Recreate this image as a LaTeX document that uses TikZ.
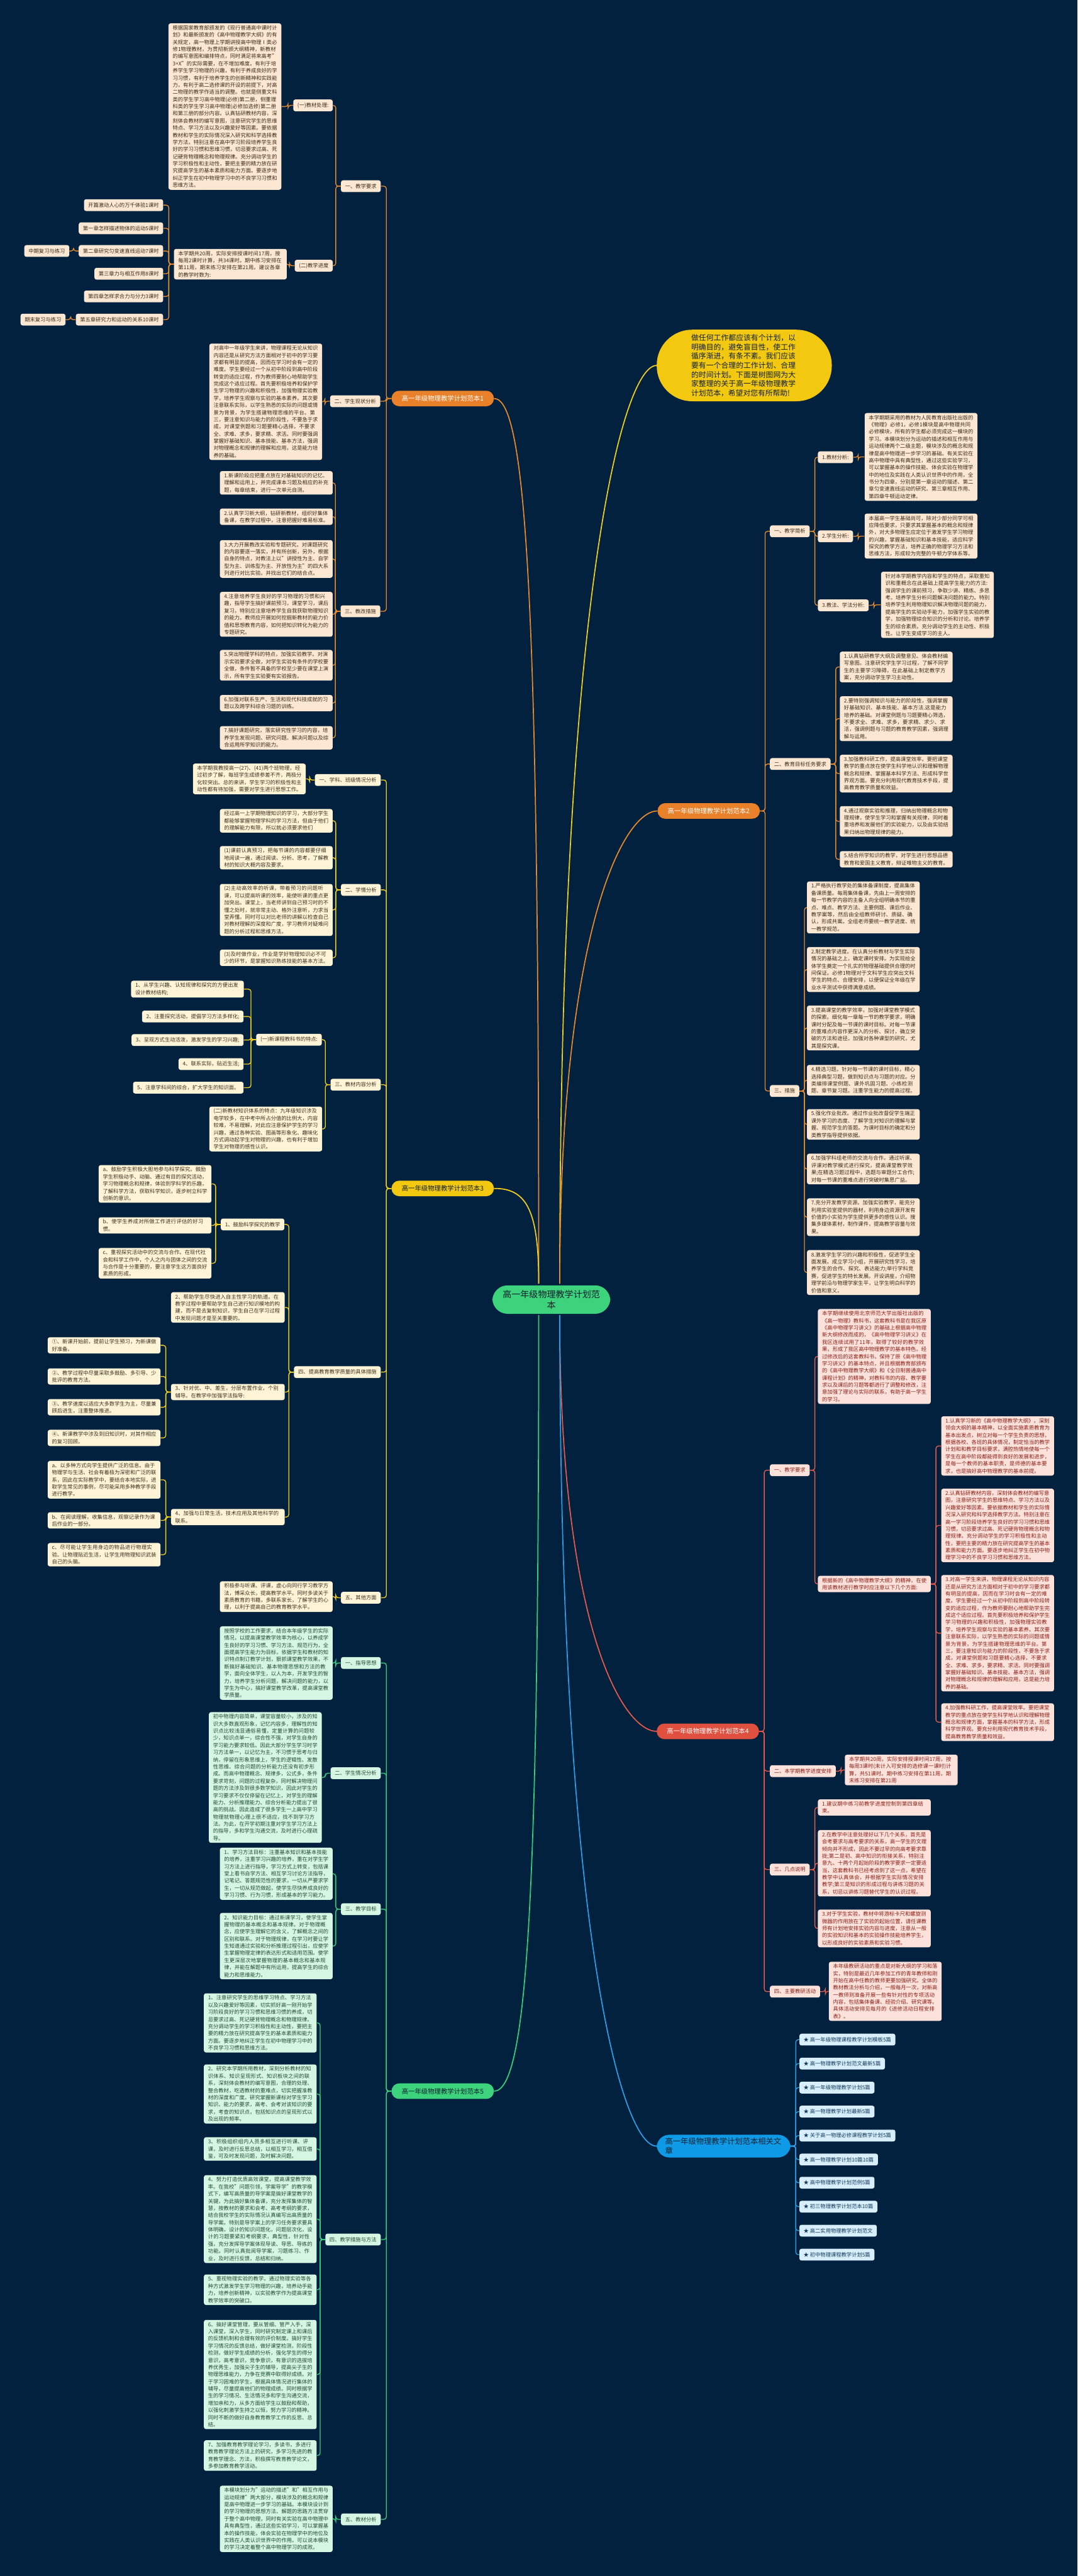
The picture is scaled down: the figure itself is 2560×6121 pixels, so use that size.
\documentclass[tikz,border=0pt]{standalone}
\usepackage{fontspec}
\setmainfont{Noto Sans CJK SC}
\XeTeXlinebreaklocale "zh"
\XeTeXlinebreakskip=0pt plus 0.6pt
\usetikzlibrary{calc}
\definecolor{bgc}{HTML}{01213F}
\definecolor{lO}{HTML}{E8892B}\definecolor{nO}{HTML}{E8812A}\definecolor{fO}{HTML}{FCE8D2}\definecolor{tO}{HTML}{3B2A1A}
\definecolor{lY}{HTML}{F3CF1C}\definecolor{nY}{HTML}{F2C811}\definecolor{fY}{HTML}{FFF4D6}\definecolor{tY}{HTML}{3A3020}
\definecolor{lR}{HTML}{E65B4A}\definecolor{nR}{HTML}{E0503F}\definecolor{fR}{HTML}{FDE2DC}\definecolor{tR}{HTML}{8A1E14}
\definecolor{lG}{HTML}{34D07A}\definecolor{nG}{HTML}{3DD27C}\definecolor{fG}{HTML}{D6F6E4}\definecolor{tG}{HTML}{1F4A33}
\definecolor{lB}{HTML}{2B9FE6}\definecolor{nB}{HTML}{0E9AE6}\definecolor{fB}{HTML}{D8EEFB}\definecolor{tB}{HTML}{123A5A}
\definecolor{tD}{HTML}{10202E}
\pgfdeclarelayer{back}\pgfdeclarelayer{lines}\pgfsetlayers{back,lines,main}
\newcommand\lkL[3]{\draw[#1] (#2.west) -- ++(-12,0) |- (#3.east);}
\newcommand\lkR[3]{\draw[#1] (#2.east) -- ++(12,0) |- (#3.west);}
\tikzset{
 base/.style={inner xsep=5pt,inner ysep=2.5pt,rounded corners=2.5pt,font=\fontsize{6.2pt}{8.5pt}\selectfont},
 boxO/.style={base,fill=fO,text=tO,anchor=north west,align=left,text width=124pt},
 labO/.style={base,fill=fO,text=tO,minimum height=14pt},
 boxY/.style={base,fill=fY,text=tY,anchor=north west,align=left,text width=124pt},
 labY/.style={base,fill=fY,text=tY,minimum height=14pt},
 boxR/.style={base,fill=fR,text=tR,anchor=north west,align=left,text width=124pt},
 labR/.style={base,fill=fR,text=tR,minimum height=14pt},
 boxG/.style={base,fill=fG,text=tG,anchor=north west,align=left,text width=124pt},
 labG/.style={base,fill=fG,text=tG,minimum height=14pt},
 labB/.style={base,fill=fB,text=tB,minimum height=14pt,anchor=north west},
 lnO/.style={draw=lO,line width=1pt,rounded corners=3pt},
 lnY/.style={draw=lY,line width=1pt,rounded corners=3pt},
 lnR/.style={draw=lR,line width=1pt,rounded corners=3pt},
 lnG/.style={draw=lG,line width=1pt,rounded corners=3pt},
 lnB/.style={draw=lB,line width=1pt,rounded corners=3pt},
 trunk/.style={line width=1.3pt},
 brn/.style={inner xsep=10pt,inner ysep=2pt,minimum height=18.5pt,minimum width=121.5pt,rounded corners=9pt,font=\fontsize{7.75pt}{9pt}\selectfont,anchor=north west},
}
\begin{document}
\begin{tikzpicture}[x=0.5pt,y=-0.5pt]
\begin{pgfonlayer}{back}
\fill[bgc] (0,0) rectangle (2560,6121);
\end{pgfonlayer}
\useasboundingbox (0,0) rectangle (2560,6121);

% ---------- center ----------
\node[fill=nG,text=tD,rounded corners=18pt,inner xsep=12pt,inner ysep=5.5pt,align=center,text width=116pt,font=\fontsize{10.5pt}{13pt}\selectfont] (c) at (1310,3088) {高一年级物理教学计划范\\本};

% ---------- intro ----------
\node[fill=nY,text=tD,anchor=north west,rounded corners=42pt,inner xsep=41pt,inner ysep=4pt,minimum height=85pt,text width=126pt,align=left,font=\fontsize{8.8pt}{11pt}\selectfont] (intro) at (1560,783) {做任何工作都应该有个计划，以明确目的，避免盲目性，使工作循序渐进，有条不紊。我们应该要有一个合理的工作计划、合理的时间计划。下面是树图网为大家整理的关于高一年级物理教学计划范本，希望对您有所帮助!};

% ---------- branch 1 (orange, left) ----------
\node[brn,fill=nO,text=white] (b1) at (930,928) {高一年级物理教学计划范本1};
\node[labO,anchor=north east] (o1) at (905,428) {一、教学要求};
\node[labO,anchor=north east] (o11) at (791,236) {(一)教材处理:};
\node[boxO] (o11t) at (400,55) {根据国家教育部颁发的《现行普通高中课时计划》和最新颁发的《高中物理教学大纲》的有关规定，高一物理上学期讲授高中物理Ⅰ类必修1物理教材，为贯彻新颁大纲精神，新教材的编写意图和编排特点，同时满足将来高考"3+X"的实际需要，在不增加难度。有利于培养学生学习物理的兴趣，有利于养成良好的学习习惯，有利于培养学生的创新精神和实践能力，有利于高二选修课的开设的前提下，对高二物理的教学作适当的调整。也就是侧重文科类的学生学习高中物理(必修)第二册，侧重理科类的学生学习高中物理(必修加选修)第二册和第三册的部分内容。认真钻研教材内容，深刻体会教材的编写意图，注意研究学生的思维特点、学习方法以及兴趣爱好等因素。要依据教材和学生的实际情况深入研究和科学选择教学方法。特别注意在高中学习阶段培养学生良好的学习习惯和思维习惯，切忌要求过高、死记硬背物理概念和物理规律。充分调动学生的学习积极性和主动性，要把主要的精力放在研究提高学生的基本素质和能力方面。要逐步地纠正学生在初中物理学习中的不良学习习惯和思维方法。};
\node[labO,anchor=north east] (o12) at (791,617) {(二)教学进度};
\node[boxO] (o12t) at (413,591) {本学期共20周，实际安排授课时间17周，按每周2课时计算，共34课时。期中练习安排在第11周，期末练习安排在第21周。建议各章的教学时数为:};
\node[labO,anchor=north east] (o12a) at (388,473) {开篇激动人心的万千体验1课时};
\node[labO,anchor=north east] (o12b) at (388,528) {第一章怎样描述物体的运动5课时};
\node[labO,anchor=north east] (o12c) at (388,582) {第二章研究匀变速直线运动7课时};
\node[labO,anchor=north east] (o12d) at (388,636) {第三章力与相互作用8课时};
\node[labO,anchor=north east] (o12e) at (388,690) {第四章怎样求合力与分力3课时};
\node[labO,anchor=north east] (o12f) at (388,745) {第五章研究力和运动的关系10课时};
\node[labO,anchor=north east] (o12c2) at (165,582) {中期复习与练习};
\node[labO,anchor=north east] (o12f2) at (156,745) {期末复习与练习};
\node[labO,anchor=north east] (o2) at (904,939) {二、学生现状分析};
\node[boxO] (o2t) at (497,816) {对高中一年级学生来讲，物理课程无论从知识内容还是从研究方法方面相对于初中的学习要求都有明显的提高，因而在学习时会有一定的难度。学生要经过一个从初中阶段到高中阶段转变的适应过程，作为教师要耐心地帮助学生完成这个适应过程。首先要积极培养和保护学生学习物理的兴趣和积极性，加强物理实验教学，培养学生观察与实验的基本素养。其次要注意联系实际，以学生熟悉的实际的问题或情景为背景，为学生搭建物理思维的平台。第三，要注意知识与能力的阶段性，不要急于求成，对课堂例题和习题要精心选择，不要求全、求难、求多，要求精、求活。同时要强调掌握好基础知识、基本技能、基本方法，强调对物理概念和规律的理解和应用，这是能力培养的基础。};
\node[labO,anchor=north east] (o3) at (904,1438) {三、教改措施};
\node[boxO] (o3a) at (522,1119) {1.新课阶段应把重点放在对基础知识的记忆、理解和运用上，并完成课本习题及相应的补充题，每章结束，进行一次单元自测。};
\node[boxO] (o3b) at (522,1208) {2.认真学习新大纲，钻研新教材，组织好集体备课，在教学过程中，注意把握好难易标准。};
\node[boxO] (o3c) at (522,1283) {3.大力开展教改实验和专题研究。对课题研究的内容要逐一落实，并有所创新，另外，根据自身的特点，对教法上以"讲授性为主、自学型为主、训练型为主、开放性为主"的四大系列进行对比实验。并找出它们的结合点。};
\node[boxO] (o3d) at (522,1406) {4.注意培养学生良好的学习物理的习惯和兴趣，指导学生搞好课前预习，课堂学习，课后复习，特别应注意培养学生自我获取物理知识的能力。教师应开展如何挖掘新教材的能力价值和思想教育内容，如何把知识转化为能力的专题研究。};
\node[boxO] (o3e) at (522,1544) {5.突出物理学科的特点，加强实验教学。对演示实验要求全做，对学生实验有条件的学校要全做，条件暂不具备的学校至少要在课堂上演示，所有学生实验要有实验报告。};
\node[boxO] (o3f) at (522,1651) {6.加强对联系生产、生活和现代科技成就的习题以及跨学科综合习题的训练。};
\node[boxO] (o3g) at (522,1725) {7.搞好课题研究，落实研究性学习的内容，培养学生发现问题、研究问题、解决问题以及综合运用所学知识的能力。};

% ---------- branch 3 (yellow, left) ----------
\node[brn,fill=nY,text=tD] (b3) at (930,2805) {高一年级物理教学计划范本3};
\node[labY,anchor=north east] (y1) at (905,1839) {一、学科、班级情况分析};
\node[boxY] (y1t) at (458,1814) {本学期我教授高一(27)、(41)两个班物理，经过初步了解，每班学生成绩参差不齐，两极分化较突出。总的来讲，学生学习的积极性和主动性都有待加强，需要对学生进行思想工作。};
\node[labY,anchor=north east] (y2) at (905,2100) {二、学情分析};
\node[boxY] (y2a) at (522,1922) {经过高一上学期物理知识的学习，大部分学生都能够掌握物理学科的学习方法，但由于他们的理解能力有限，所以就必须要求他们};
\node[boxY] (y2b) at (522,2010) {(1)课前认真预习，把每节课的内容都要仔细地阅读一遍，通过阅读、分析、思考，了解教材的知识大概内容及要求。};
\node[boxY] (y2c) at (522,2100) {(2)主动高效率的听课，带着预习的问题听课，可以提高听课的效率，能使听课的重点更加突出。课堂上，当老师讲到自己预习时的不懂之处时，就非常主动、格外注意听，力求当堂弄懂。同时可以对比老师的讲解以检查自己对教材理解的深度和广度，学习教师对疑难问题的分析过程和思维方法。};
\node[boxY] (y2d) at (522,2256) {(3)及时做作业，作业是学好物理知识必不可少的环节，是掌握知识熟练技能的基本方法。};
\node[labY,anchor=north east] (y3) at (905,2563) {三、教材内容分析};
\node[labY,anchor=north east] (y31) at (765,2456) {(一)新课程教科书的特点:};
\node[boxY] (y31a) at (311,2330) {1、从学生兴趣、认知规律和探究的方便出发设计教材结构;};
\node[labY,anchor=north east] (y31b) at (579,2401) {2、注重探究活动，提倡学习方法多样化;};
\node[labY,anchor=north east] (y31c) at (579,2457) {3、呈现方式生动活泼，激发学生的学习兴趣;};
\node[labY,anchor=north east] (y31d) at (579,2514) {4、联系实际，贴近生活;};
\node[labY,anchor=north east] (y31e) at (579,2570) {5、注意学科间的综合，扩大学生的知识面。};
\node[boxY] (y32) at (497,2629) {(二)新教材知识体系的特点：九年级知识涉及电学较多，在中考中所占分值的比例大，内容较难，不易理解，对此应注意保护学生的学习兴趣，通过各种实验、图画等形象化、趣味化方式调动起学生对物理的兴趣，也有利于增加学生对物理的感性认识。};
\node[labY,anchor=north east] (y4) at (905,3246) {四、提高教育教学质量的具体措施};
\node[labY,anchor=north east] (y41) at (676,2895) {1、鼓励科学探究的教学};
\node[boxY] (y41a) at (234,2768) {a、鼓励学生积极大胆地参与科学探究。鼓励学生积极动手、动脑、通过有目的探究活动，学习物理概念和规律，体验到学科学的乐趣，了解科学方法，获取科学知识，逐步树立科学创新的意识。};
\node[boxY] (y41b) at (234,2892) {b、使学生养成对所做工作进行评估的好习惯。};
\node[boxY] (y41c) at (234,2965) {c、重视探究活动中的交流与合作。在现代社会和科学工作中，个人之内与团体之间的交流与合作是十分重要的，要注意学生这方面良好素质的形成。};
\node[boxY,text width=125pt] (y42) at (406,3070) {2、帮助学生尽快进入自主性学习的轨道。在教学过程中要帮助学生自己进行知识模地的构建，而不是去复制知识，学生自己在学习过程中发现问题才是至关重要的。};
\node[boxY,text width=125pt] (y43) at (406,3288) {3、针对优、中、差生，分层布置作业，个别辅导。在教学中加强学法指导:};
\node[boxY] (y43a) at (113,3177) {①、新课开始前，提前让学生预习，为新课做好准备。};
\node[boxY] (y43b) at (113,3251) {②、教学过程中尽量采取多鼓励、多引导、少批评的教育方法。};
\node[boxY] (y43c) at (113,3324) {③、教学速度以适应大多数学生为主，尽量兼顾后进生，注重整体推进。};
\node[boxY] (y43d) at (113,3397) {④、新课教学中涉及到旧知识时，对其作相应的复习回顾。};
\node[boxY,text width=125pt] (y44) at (406,3585) {4、加强与日常生活，技术应用及其他科学的联系。};
\node[boxY] (y44a) at (113,3471) {a、以多种方式向学生提供广泛的信息。由于物理学与生活、社会有着极为深密和广泛的联系，因此在实际教学中，要结合本地实际，进取学生常见的事例，尽可能采用多种教学手段进行教学。};
\node[boxY] (y44b) at (113,3593) {b、在阅读理解，收集信息，观察记录作为课后作业的一部分。};
\node[boxY] (y44c) at (113,3666) {c、尽可能让学生用身边的物品进行物理实验。让物理贴近生活，让学生用物理知识武装自己的头脑。};
\node[labY,anchor=north east] (y5) at (905,3782) {五、其他方面};
\node[boxY] (y5t) at (522,3757) {积极参与听课、评课，虚心向同行学习教学方法，博采众长，提高教学水平。同时多读关于素质教育的书籍，多联系家长，了解学生的心理，以利于提高自己的教育教学水平。};

% ---------- branch 5 (green, left) ----------
\node[brn,fill=nG,text=tD] (b5) at (930,4950) {高一年级物理教学计划范本5};
\node[labG,anchor=north east] (g1) at (905,3937) {一、指导思想};
\node[boxG] (g1t) at (522,3864) {按照学校的工作要求，结合本年级学生的实际情况，以提高课堂教学效率为核心，以养成学生良好的学习习惯、学习方法、规范行为，全面提高学生能力为目标，依据学生和教材的知识特点制订教学计划，狠抓课堂教学效果，不断搞好基础知识、基本物理思想和方法的教学，面向全体学生，以人为本，开发学生的智力，培养学生分析问题，解决问题的能力，以学生为中心，搞好课堂教学改革，提高课堂教学质量。};
\node[labG,anchor=north east] (g2) at (905,4199) {二、学生情况分析};
\node[boxG] (g2t) at (496,4068) {初中物理内容简单，课堂容量较小，涉及的知识大多数直观形象，记忆内容多，理解性的知识点比较浅显通俗易懂，定量计算的问题较少，知识点单一，综合性不强，对学生自身的学习能力要求较低。因此大部分学生学习时学习方法单一，以记忆为主，不习惯于思考与归纳，停留在形象思维上，学生的逻辑性、发散性思维、综合问题的分析能力还没有初步形成。而高中物理概念、规律多，公式多，条件要求苛刻，问题的过程复杂，同时解决物理问题的方法涉及到很多数学知识，因此对学生的学习要求不仅仅停留在记忆上，对学生的理解能力、分析推理能力、综合分析能力提出了很高的挑战。因此造成了很多学生一上高中学习物理就物理心理上很不适应，找不到学习方法。为此，在开学初期注重对学生学习方法上的指导，多和学生沟通交流，及时进行心理疏导。};
\node[labG,anchor=north east] (g3) at (905,4522) {三、教学目标};
\node[boxG] (g3a) at (522,4390) {1、学习方法目标：注重基本知识和基本技能的培养，注重学习兴趣的培养，重在对学生学习方法上进行指导，学习方式上转变，包括课堂上看书自学方法、相互学习讨论方法指导，记笔记、答题规范性的要求，一切从严要求学生，一切从规范做起，使学生尽快养成良好的学习习惯、行为习惯，形成基本的学习能力。};
\node[boxG] (g3b) at (522,4545) {2、知识能力目标：通过新课学习，使学生掌握物理的基本概念和基本规律。对于物理概念，应使学生理解它的含义，了解概念之间的区别和联系。对于物理规律，在学习时要让学生知道通过实验和分析推理过程引出，应使学生掌握物理定律的表达形式和适用范围。使学生更深层次地掌握物理的基本概念和基本规律，并能在解题中有所运用，提高学生的综合能力和思维能力。};
\node[labG,anchor=north east] (g4) at (905,5307) {四、教学措施与方法};
\node[boxG] (g4a) at (484,4736) {1、注意研究学生的思维学习特点、学习方法以及兴趣爱好等因素，切实抓好高一刚开始学习阶段良好的学习习惯和思维习惯的养成，切忌要求过高、死记硬背物理概念和物理规律。充分调动学生的学习积极性和主动性，要把主要的精力放在研究提高学生的基本素质和能力方面。要逐步地纠正学生在初中物理学习中的不良学习习惯和思维方法。};
\node[boxG] (g4b) at (484,4905) {2、研究本学期所用教材，深刻分析教材的知识体系、知识呈现形式、知识板块之间的联系，深刻体会教材的编写意图，合理的处理、整合教材，吃透教材的重难点，切实把握准教材的深度和广度。研究掌握新课标对学生学习知识、能力的要求，高考、会考对该知识的要求，考查的知识点，包括知识点的呈现形式以及出现的频率。};
\node[boxG] (g4c) at (484,5078) {3、积极组织组内人员多相互进行听课、评课，及时进行反思总结，以相互学习，相互借鉴，可及时发现问题，及时解决问题。};
\node[boxG] (g4d) at (484,5168) {4、努力打造优质高效课堂，提高课堂教学效率。在我校"问题引领，学案导学"的教学模式下，编写高质量的导学案是搞好课堂教学的关键，为此搞好集体备课，充分发挥集体的智慧，按教材的要求和会考、高考考纲的要求，结合我校学生的实际情况认真编写出高质量的导学案。特别是导学案上的学习任务要求要具体明确，设计的知识问题化，问题层次化，设计的习题要紧扣考纲要求，典型性，针对性强，充分发挥导学案体现导读、导思、导练的功能。同时认真批阅导学案，习题练习、作业，及时进行反馈，总结和归纳。};
\node[boxG] (g4e) at (484,5404) {5、重视物理实验的教学。通过物理实验等各种方式激发学生学习物理的兴趣，培养动手能力，培养创新精神，以实验教学作为提高课堂教学效率的突破口。};
\node[boxG] (g4f) at (484,5512) {6、搞好课堂管理，要从管细、管严入手，深入课堂，深入学生，同时研究制定课上和课后的反馈机制和合理有效的评价制度。搞好学生学习情况的反馈总结，做好课堂检测，阶段性检测，做好学生成绩的分析，强化学生的得分意识，高考意识，竞争意识，有意识的选拔培养优秀生，加强尖子生的辅导，提高尖子生的物理思维能力，力争在竞赛中取得好成绩。对于学习困难的学生，根据具体情况进行集体的辅导，尽量提高他们的物理成绩。同时根据学生的学习情况、生活情况多和学生沟通交流，增加亲和力，从多方面给学生以鼓励和帮助，以强化刺激学生持之以恒，努力学习的精神。同时不断的做好自身教育教学工作的反思、总结。};
\node[boxG] (g4g) at (484,5798) {7、加强教育教学理论学习，多读书，多进行教育教学理论方法上的研究，多学习先进的教育教学理念、方法，积极撰写教育教学论文，多参加教育教学活动。};
\node[labG,anchor=north east] (g5) at (905,5972) {五、教材分析};
\node[boxG] (g5t) at (522,5906) {本模块划分为"运动的描述"和"相互作用与运动规律"两大部分，模块涉及的概念和规律是高中物理进一步学习的基础。本模块设计到的学习物理的思想方法、解题的思路方法贯穿于整个高中物理，同时有关实验在高中物理中具有典型性，通过这些实验学习，可以掌握基本的操作技能，体会实验在物理学中的地位及实践在人类认识世界中的作用。可以说本模块的学习决定着整个高中物理学习的成败。};

% ---------- branch 2 (orange, right) ----------
\node[brn,fill=nO,text=white] (b2) at (1562,1908) {高一年级物理教学计划范本2};
\node[labO,anchor=north west] (r1) at (1829,1248) {一、教学简析};
\node[labO,anchor=north west] (r11) at (1943,1072) {1.教材分析:};
\node[boxO] (r11t) at (2054,981) {本学期期采用的教材为人民教育出版社出版的《物理》必修1，必修1模块是高中物理共同必修模块，所有的学生都必须完成这一模块的学习。本模块划分为运动的描述和相互作用与运动规律两个二级主题，模块涉及的概念和规律是高中物理进一步学习的基础。有关实验在高中物理中具有典型性，通过这些实验学习，可以掌握基本的操作技能、体会实验在物理学中的地位及实践在人类认识世界中的作用，全书分为四章，分别是第一章运动的描述、第二章匀变速直线运动的研究、第三章相互作用、第四章牛顿运动定律。};
\node[labO,anchor=north west] (r12) at (1943,1260) {2.学生分析:};
\node[boxO] (r12t) at (2054,1220) {本届高一学生基础尚可，除对少部分同学可相应降低要求，只要求其掌握基本的概念和规律外，对大多物理生应定位于激发学生学习物理的兴趣，掌握基础知识和基本技能，适应科学探究的教学方法，培养正确的物理学习方法和思维方法，形成较为完整的牛顿力学体系等。};
\node[labO,anchor=north west] (r13) at (1943,1424) {3.教法、学法分析:};
\node[boxO] (r13t) at (2093,1358) {针对本学期教学内容和学生的特点，采取重知识和重概念在此基础上提高学生能力的方法:强调学生的课前预习，争取少讲、精练、多思考。培养学生分析问题解决问题的能力。特别培养学生利用物理知识解决物理问题的能力，提高学生的实验动手能力，加强学生实验的教学，加强物理综合知识的分析和讨论。培养学生的综合素质。充分调动学生的主动性、积极性。让学生变成学习的主人。};
\node[labO,anchor=north west] (r2) at (1829,1801) {二、教育目标任务要求};
\node[boxO] (r2a) at (1995,1548) {1.认真钻研教学大纲及调整意见、体会教材编写意图。注意研究学生学习过程，了解不同学生的主要学习障碍，在此基础上制定教学方案，充分调动学生学习主动性。};
\node[boxO] (r2b) at (1995,1654) {2.要特别强调知识与能力的阶段性，强调掌握好基础知识、基本技能、基本方法.这是能力培养的基础。对课堂例题与习题要精心筛选，不要求全、求难、求多，要求精、求少、求活，强调例题与习题的教育教学因素，强调理解与运用。};
\node[boxO] (r2c) at (1995,1793) {3.加强教科研工作，提高课堂效率。要把课堂教学的重点放在使学生科学地认识和理解物理概念和规律、掌握基本科学方法、形成科学世界观方面。要充分利用现代教育技术手段，提高教育教学质量和效益。};
\node[boxO] (r2d) at (1995,1915) {4.通过观察实验和推理，归纳出物理概念和物理规律，使学生学习和掌握有关规律，同时着重培养和发展他们的实验能力，以及由实验结果归纳出物理规律的能力。};
\node[boxO] (r2e) at (1995,2022) {5.结合所学知识的教学，对学生进行思想品德教育和爱国主义教育，辩证唯物主义的教育。};
\node[labO,anchor=north west] (r3) at (1829,2578) {三、措施};
\node[boxO] (r3a) at (1917,2094) {1.严格执行教学处的集体备课制度，提高集体备课质量。每周集体备课，先由上一周安排的每一节教学内容的主备人向全组明确本节的重点、难点、教学方法、主要例题、课后作业、教学案等，然后由全组教师研讨、质疑、确认，形成共案。全组老师要统一教学进度、统一教学规范。};
\node[boxO] (r3b) at (1917,2250) {2.制定教学进度。在认真分析教材与学生实际情况的基础之上，确定课时安排。为实现给全体学生奠定一个扎实的物理基础提供合理的时间保证。必修1物理对于文科学生应突出文科学生的特点、合理安排，以便保证全年级在学业水平测试中获得满意成绩。};
\node[boxO] (r3c) at (1917,2389) {3.提高课堂的教学效率，加强对课堂教学模式的探索。细化每一章每一节的教学要求，明确课时分配及每一节课的课时目标。对每一节课的重难点内容作更深入的分析、探讨，确立突破的方法和途径。加强对各种课型的研究，尤其是探究课。};
\node[boxO] (r3d) at (1917,2530) {4.精选习题。针对每一节课的课时目标，精心选择典型习题，做到知识点与习题的对应。分类编排课堂例题、课外巩固习题、小练检测题、章节复习题。注重学生能力的提高过程。};
\node[boxO] (r3e) at (1917,2635) {5.强化作业批改。通过作业批改督促学生端正课外学习的态度、了解学生对知识的理解与掌握、规范学生的答题。为课时目标的确定和分类教学指导提供依据。};
\node[boxO] (r3f) at (1917,2741) {6.加强学科组老师的交流与合作。通过听课、评课对教学模式进行探究，提高课堂教学效果;在精选习题过程中，选题与审题分工合作;对每一节课的重难点进行突破时集思广益。};
\node[boxO] (r3g) at (1917,2847) {7.充分开发教学资源。加强实验教学，能充分利用实验室提供的器材，利用身边资源开发有价值的小实验为学生提供更多的感性认识。搜集多媒体素材，制作课件，提高教学容量与效果。};
\node[boxO] (r3h) at (1917,2970) {8.激发学生学习的兴趣和积极性，促进学生全面发展。成立学习小组，开展研究性学习，培养学生的合作、探究、表达能力;举行学科竞赛，促进学生的特长发展。开设讲座，介绍物理学前沿与物理学家生平，让学生明白科学的价值和意义。};

% ---------- branch 4 (red, right) ----------
\node[brn,fill=nR,text=white] (b4) at (1560,4095) {高一年级物理教学计划范本4};
\node[labR,anchor=north west] (d1) at (1829,3479) {一、教学要求};
\node[boxR] (d1a) at (1943,3110) {本学期继续使用北京师范大学出版社出版的《高一物理》教科书，这套教科书是在我区原《高中物理学习讲义》的基础上根据高中物理新大纲修改而成的，《高中物理学习讲义》在我区连续试用了11年，取得了较好的教学效果，形成了我区高中物理教学的基本特色。经过修改后的这套教科书，保持了原《高中物理学习讲义》的基本特点，并且根据教育部颁布的《高中物理教学大纲》和《全日制普通高中课程计划》的精神，对教科书的内容、教学要求以及课后的习题等都进行了调整和修改，注意加强了理论与实际的联系，有助于高一学生的学习。};
\node[boxR] (d1b) at (1943,3744) {根据新的《高中物理教学大纲》的精神，在使用该教材进行教学时应注意以下几个方面:};
\node[boxR] (d1b1) at (2236,3365) {1.认真学习新的《高中物理教学大纲》，深刻领会大纲的基本精神，以全面实施素质教育为基本出发点，树立对每一个学生负责的思想，根据各校、各班的具体情况，制定恰当的教学计划和和教学目标要求，满腔热情地使每一个学生在高中阶段都能得到良好的发展和进步，是每一个教师的基本职责，是师德的基本要求，也是搞好高中物理教学的基本前提。};
\node[boxR] (d1b2) at (2236,3537) {2.认真钻研教材内容，深刻体会教材的编写意图，注意研究学生的思维特点、学习方法以及兴趣爱好等因素。要依据教材和学生的实际情况深入研究和科学选择教学方法。特别注意在高一学习阶段培养学生良好的学习习惯和思维习惯，切忌要求过高、死记硬背物理概念和物理规律。充分调动学生的学习积极性和主动性，要把主要的精力放在研究提高学生的基本素质和能力方面。要逐步地纠正学生在初中物理学习中的不良学习习惯和思维方法。};
\node[boxR] (d1b3) at (2236,3742) {3.对高一学生来讲，物理课程无论从知识内容还是从研究方法方面相对于初中的学习要求都有明显的提高，因而在学习时会有一定的难度。学生要经过一个从初中阶段到高中阶段转变的适应过程，作为教师要耐心地帮助学生完成这个适应过程。首先要积极培养和保护学生学习物理的兴趣和积极性，加强物理实验教学，培养学生观察与实验的基本素养。其次要注意联系实际，以学生熟悉的实际的问题或情景为背景，为学生搭建物理思维的平台。第三，要注意知识与能力的阶段性，不要急于求成，对课堂例题和习题要精心选择，不要求全、求难、求多，要求精、求活。同时要强调掌握好基础知识、基本技能、基本方法，强调对物理概念和规律的理解和应用，这是能力培养的基础。};
\node[boxR] (d1b4) at (2236,4047) {4.加强教科研工作，提高课堂效率。要把课堂教学的重点放在使学生科学地认识和理解物理概念和规律方面，掌握基本的科学方法，形成科学世界观。要充分利用现代教育技术手段，提高教育教学质量和效益。};
\node[labR,anchor=north west] (d2) at (1829,4194) {二、本学期教学进度安排};
\node[boxR] (d2t) at (2007,4169) {本学期共20周，实际安排授课时间17周，按每周3课时(未计入可安排的选修课一课时)计算，共51课时。期中练习安排在第11周，期末练习安排在第21周};
\node[labR,anchor=north west] (d3) at (1829,4428) {三、几点说明};
\node[boxR] (d3a) at (1943,4275) {1.建议期中练习前教学进度控制到第四章结束。};
\node[boxR] (d3b) at (1943,4348) {2.在教学中注意处理好以下几个关系，首先是会考要求与高考要求的关系，高一学生的文理倾向并不形成，因此不要过早的向高考要求靠拢;第二是初、高中知识的衔接关系，特别注意九、十两个月起始阶段的教学要求一定要适当，这套教科书已经考虑到了这一点，希望在教学中认真体会，并根据学生实际情况安排教学;第三是知识的形成过程与讲练习题的关系，切忌以讲练习题替代学生的认识过程。};
\node[boxR] (d3c) at (1943,4537) {3.对于学生实验，教材中将游标卡尺和螺旋测微器的作用放在了实验的起始位置，请任课教师有计划地安排实验内容与进度，注意从一般的实验知识和基本的实验操作技能培养学生，以形成良好的实验素质和实验习惯。};
\node[labR,anchor=north west] (d4) at (1829,4718) {四、主要教研活动};
\node[boxR] (d4t) at (1969,4661) {本年级教研活动的重点是对新大纲的学习和落实，特别是最近几年参加工作的青年教师和刚开始在高中任教的教师更要加强研究。全体的教材教法分析与介绍，一般每月一次，对新高一教师则准备开展一些有针对性的专项活动内容，包括集体备课、经验介绍、研究课等。具体活动安排见每月的《进修活动日程安排表》。};

% ---------- related (blue, right) ----------
\node[fill=nB,text=tD,anchor=north west,rounded corners=15pt,inner xsep=10pt,inner ysep=3.5pt,text width=139pt,align=left,font=\fontsize{9.2pt}{11.5pt}\selectfont] (bl) at (1560,5072) {高一年级物理教学计划范本相关文\\章};
\node[labB] (bl1) at (1899,4832) {★ 高一年级物理课程教学计划模板5篇};
\node[labB] (bl2) at (1899,4889) {★ 高一物理教学计划范文最新5篇};
\node[labB] (bl3) at (1899,4946) {★ 高一年级物理教学计划5篇};
\node[labB] (bl4) at (1899,5003) {★ 高一物理教学计划最新5篇};
\node[labB] (bl5) at (1899,5060) {★ 关于高一物理必修课程教学计划5篇};
\node[labB] (bl6) at (1899,5117) {★ 高一物理教学计划10篇10篇};
\node[labB] (bl7) at (1899,5172) {★ 高中物理教学计划范例5篇};
\node[labB] (bl8) at (1899,5229) {★ 初三物理教学计划范本10篇};
\node[labB] (bl9) at (1899,5286) {★ 高二实用物理教学计划范文};
\node[labB] (bl10) at (1899,5343) {★ 初中物理课程教学计划5篇};

% ---------- connectors ----------
\begin{pgfonlayer}{lines}
\draw[lnO,trunk] (1280,3050) .. controls (1280,1472) and (1253,946) .. (b1.east);
\draw[lnY,trunk] (1280,3050) .. controls (1280,2880) and (1253,2823) .. (b3.east);
\draw[lnG,trunk] (1280,3125) .. controls (1280,4507) and (1253,4968) .. (b5.east);
\draw[lnY,trunk] (1330,3050) .. controls (1330,1413) and (1480,868) .. (intro.west);
\draw[lnO,trunk] (1330,3050) .. controls (1330,2208) and (1482,1927) .. (b2.west);
\draw[lnR,trunk] (1330,3125) .. controls (1330,3865) and (1480,4113) .. (b4.west);
\draw[lnB,trunk] (1330,3125) .. controls (1330,4607) and (1480,5101) .. (bl.west);
% branch 1
\foreach \n in {o1,o2,o3} {\lkL{lnO}{b1}{\n}}
\lkL{lnO}{o1}{o11}\lkL{lnO}{o1}{o12}
\lkL{lnO}{o11}{o11t}\lkL{lnO}{o12}{o12t}
\foreach \n in {a,b,c,d,e,f} {\lkL{lnO}{o12t}{o12\n}}
\lkL{lnO}{o12c}{o12c2}\lkL{lnO}{o12f}{o12f2}
\lkL{lnO}{o2}{o2t}
\foreach \n in {a,b,c,d,e,f,g} {\lkL{lnO}{o3}{o3\n}}
% branch 3
\foreach \n in {y1,y2,y3,y4,y5} {\lkL{lnY}{b3}{\n}}
\lkL{lnY}{y1}{y1t}
\foreach \n in {a,b,c,d} {\lkL{lnY}{y2}{y2\n}}
\lkL{lnY}{y3}{y31}\lkL{lnY}{y3}{y32}
\foreach \n in {a,b,c,d,e} {\lkL{lnY}{y31}{y31\n}}
\foreach \n in {1,2,3,4} {\lkL{lnY}{y4}{y4\n}}
\foreach \n in {a,b,c} {\lkL{lnY}{y41}{y41\n}}
\foreach \n in {a,b,c,d} {\lkL{lnY}{y43}{y43\n}}
\foreach \n in {a,b,c} {\lkL{lnY}{y44}{y44\n}}
\lkL{lnY}{y5}{y5t}
% branch 5
\foreach \n in {g1,g2,g3,g4,g5} {\lkL{lnG}{b5}{\n}}
\lkL{lnG}{g1}{g1t}\lkL{lnG}{g2}{g2t}
\lkL{lnG}{g3}{g3a}\lkL{lnG}{g3}{g3b}
\foreach \n in {a,b,c,d,e,f,g} {\lkL{lnG}{g4}{g4\n}}
\lkL{lnG}{g5}{g5t}
% branch 2
\foreach \n in {r1,r2,r3} {\lkR{lnO}{b2}{\n}}
\foreach \n in {1,2,3} {\lkR{lnO}{r1}{r1\n}\lkR{lnO}{r1\n}{r1\n t}}
\foreach \n in {a,b,c,d,e} {\lkR{lnO}{r2}{r2\n}}
\foreach \n in {a,b,c,d,e,f,g,h} {\lkR{lnO}{r3}{r3\n}}
% branch 4
\foreach \n in {d1,d2,d3,d4} {\lkR{lnR}{b4}{\n}}
\lkR{lnR}{d1}{d1a}\lkR{lnR}{d1}{d1b}
\foreach \n in {1,2,3,4} {\lkR{lnR}{d1b}{d1b\n}}
\lkR{lnR}{d2}{d2t}
\foreach \n in {a,b,c} {\lkR{lnR}{d3}{d3\n}}
\lkR{lnR}{d4}{d4t}
% related
\foreach \n in {1,...,10} {\lkR{lnB}{bl}{bl\n}}
\end{pgfonlayer}
\end{tikzpicture}
\end{document}
